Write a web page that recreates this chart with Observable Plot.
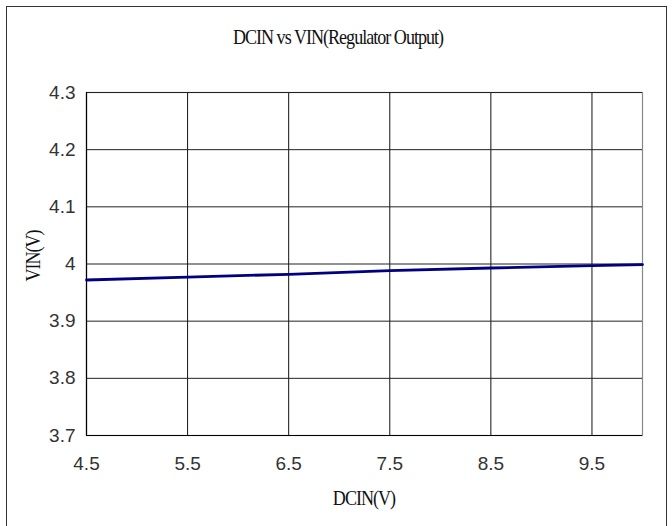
<!DOCTYPE html>
<html>
<head>
<meta charset="utf-8">
<script src="https://cdn.jsdelivr.net/npm/d3@7"></script>
<script src="https://cdn.jsdelivr.net/npm/@observablehq/plot@0.6"></script>
<style>
  html, body { margin: 0; padding: 0; background: #fff; }
  #wrap { position: relative; width: 672px; height: 526px; overflow: hidden; }
  #border { position: absolute; left: 6px; top: 6px; width: 661px; height: 540px; border: 1px solid #333; box-sizing: border-box; }
  .lbl { position: absolute; font-family: "Liberation Serif", serif; font-size: 22px; letter-spacing: -1.2px; color: #111; white-space: nowrap; line-height: 1; }
  #title { left: 338px; top: 26px; transform: translateX(-50%) scaleX(0.82); }
  #xlabel { left: 364px; top: 487px; transform: translateX(-50%) scaleX(0.82); }
  #ylabel { left: 33px; top: 256px; transform: translate(-50%, -50%) rotate(-90deg) scaleX(0.82); }
  #chart { position: absolute; left: 0; top: 0; }
</style>
</head>
<body>
<div id="wrap">
  <div id="chart"></div>
  <div id="border"></div>
  <div id="title" class="lbl">DCIN vs VIN(Regulator Output)</div>
  <div id="xlabel" class="lbl">DCIN(V)</div>
  <div id="ylabel" class="lbl">VIN(V)</div>
</div>
<script>
const dcin = [4.5, 5.5, 6.5, 7.5, 8.5, 9.5, 10];
const vin  = [3.972, 3.977, 3.982, 3.9885, 3.993, 3.997, 3.999];
const xTicks = [4.5, 5.5, 6.5, 7.5, 8.5, 9.5];
const yTicks = [3.7, 3.8, 3.9, 4.0, 4.1, 4.2, 4.3];
const yTickLabels = ["3.7", "3.8", "3.9", "4", "4.1", "4.2", "4.3"];

const data = dcin.map((d, i) => ({x: d, y: vin[i]}));

const chart = Plot.plot({
  width: 672,
  height: 526,
  marginLeft: 86,
  marginRight: 30,
  marginTop: 92,
  marginBottom: 91,
  style: {fontFamily: "'Liberation Sans', Arial, sans-serif", fontSize: "19px", color: "#333", background: "transparent"},
  x: {domain: [4.5, 10], label: null},
  y: {domain: [3.7, 4.3], label: null},
  marks: [
    Plot.frame({stroke: "#888", strokeWidth: 1.2}),
    Plot.ruleX(xTicks, {stroke: "#111", strokeWidth: 1}),
    Plot.ruleY(yTicks, {stroke: "#222", strokeWidth: 1}),
    Plot.ruleX([4.5], {stroke: "#000", strokeWidth: 1.2}),
    Plot.ruleY([3.7], {stroke: "#000", strokeWidth: 1.2}),
    Plot.axisX(xTicks, {tickSize: 0, tickPadding: 21, tickFormat: d => String(d), fontSize: 19}),
    Plot.axisY(yTicks, {tickSize: 0, tickPadding: 11, tickFormat: (d, i) => yTickLabels[i], fontSize: 19}),
    Plot.line(data, {x: "x", y: "y", stroke: "#000080", strokeWidth: 2.8})
  ]
});
document.getElementById("chart").appendChild(chart);
</script>
</body>
</html>
